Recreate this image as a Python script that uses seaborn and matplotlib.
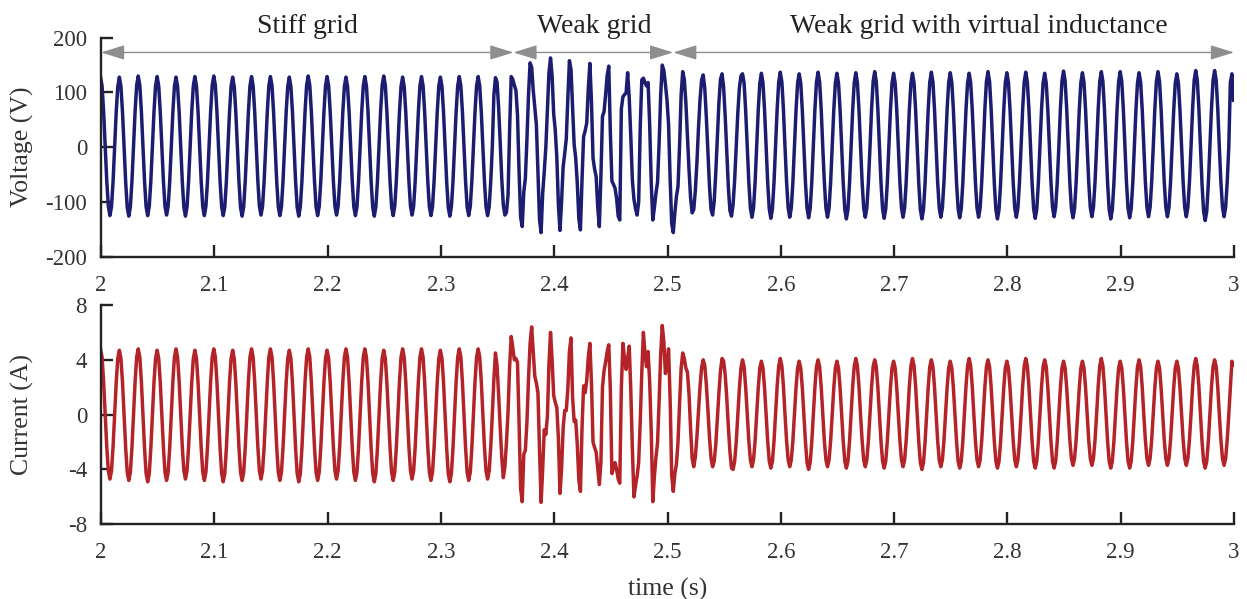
import numpy as np
import pandas as pd
import matplotlib
matplotlib.use("Agg")
import matplotlib.pyplot as plt
import matplotlib.transforms as mtransforms
import seaborn as sns

# recorded waveforms, 12 samples per 60 Hz cycle (one line = one cycle)
t_start = 1.99953
fs = 720

# --- voltage (V) ---
voltage_stiff = [
    129, 112, 65, 1, -62, -108, -125, -109, -63, 0, 64, 111,
    128, 111, 64, 0, -63, -110, -126, -109, -62, 1, 65, 113,
    130, 113, 65, 1, -62, -109, -125, -108, -62, 0, 64, 112,
    129, 112, 64, 0, -62, -108, -124, -108, -63, 0, 64, 111,
    128, 111, 64, -1, -63, -110, -126, -109, -62, 0, 65, 112,
    129, 112, 65, 1, -62, -109, -125, -108, -62, 0, 65, 113,
    130, 113, 65, 0, -62, -109, -125, -109, -63, -1, 64, 111,
    128, 111, 64, 0, -63, -110, -126, -109, -62, 0, 64, 112,
    129, 112, 65, 1, -62, -108, -124, -108, -62, 0, 64, 112,
    129, 112, 64, 0, -63, -109, -125, -109, -62, 1, 64, 111,
    128, 111, 64, 0, -63, -110, -126, -109, -63, 0, 65, 113,
    130, 113, 65, 1, -62, -109, -125, -108, -62, 0, 64, 112,
    129, 112, 64, 0, -62, -108, -124, -108, -63, 0, 64, 111,
    128, 111, 64, -1, -63, -109, -125, -109, -62, 1, 64, 112,
    129, 112, 65, 0, -63, -110, -126, -109, -62, 0, 65, 113,
    130, 113, 65, 1, -62, -109, -125, -108, -62, 0, 64, 111,
    128, 111, 64, 0, -62, -108, -124, -108, -62, 0, 64, 112,
    129, 112, 64, 0, -63, -109, -125, -109, -62, 1, 64, 112,
    128, 111, 64, 1, -63, -110, -126, -109, -63, 0, 64, 112,
    129, 112, 65, 0, -62, -109, -125, -108, -62, 0, 64, 112,
    129, 112, 64, 0, -62, -109, -125, -109, -63, 0, 95, 127,
]
voltage_weak = [
    119, 73, 10, -58, -106, -124, -119, -87, 33, 129, 124, 113,
    104, 59, -44, -128, -145, -82, -57, 14, 95, 154, 146, 104,
    72, 41, -46, -132, -156, -85, -45, -1, 70, 136, 163, 130,
    61, 31, -19, -106, -152, -100, -36, -12, 15, 90, 158, 142,
    73, 5, -20, -66, -131, -151, -60, 19, 30, 44, 107, 153,
    84, -20, -40, -54, -110, -145, -54, 56, 65, 96, 131, 148,
    28, -62, -68, -75, -94, -126, -133, 70, 92, 96, 99, 136,
    90, 20, -60, -95, -112, -124, -100, 37, 123, 126, 118, 112,
    118, 41, -66, -133, -110, -84, -64, 7, 96, 150, 140, 115,
    86, 42, -58, -139, -156, -120, -90, -72, 3, 96, 138, 124,
    81, 21, -41, -93, -120, -114, -80, -29, 34, 87, 123, 132,
    108, 55, -9, -71, -114, -124, -99, -47, 18, 81, 124, 134,
    109, 56, -9, -73, -116, -126, -105, -60, 0, 62, 108, 130,
]
voltage_vi = [
    134, 117, 67, 0, -64, -111, -128, -111, -64, 0, 68, 117,
    135, 117, 68, 1, -65, -113, -130, -113, -65, 0, 69, 119,
    137, 119, 69, 0, -64, -111, -128, -111, -64, 0, 67, 117,
    134, 117, 67, 0, -65, -112, -129, -112, -65, 1, 69, 119,
    137, 119, 69, 0, -64, -111, -128, -111, -64, 0, 68, 117,
    135, 117, 68, 0, -66, -114, -131, -114, -66, 0, 68, 118,
    136, 118, 68, 1, -64, -111, -128, -111, -64, 0, 69, 120,
    138, 120, 69, 0, -65, -113, -130, -113, -65, 0, 68, 117,
    135, 117, 68, 0, -64, -111, -128, -111, -64, 1, 68, 117,
    135, 117, 68, 0, -66, -114, -131, -114, -66, 0, 69, 119,
    137, 119, 69, 1, -64, -111, -128, -111, -64, 0, 68, 118,
    136, 118, 68, 0, -65, -112, -129, -112, -65, 0, 68, 117,
    135, 117, 68, 0, -64, -111, -128, -111, -64, 0, 69, 120,
    138, 120, 69, 1, -66, -114, -131, -114, -66, 0, 68, 118,
    136, 118, 68, 0, -64, -111, -128, -111, -64, 0, 69, 119,
    137, 119, 69, 0, -65, -113, -130, -113, -65, 1, 68, 117,
    135, 117, 68, 0, -64, -110, -127, -110, -64, 0, 70, 121,
    139, 121, 70, 1, -65, -112, -129, -112, -65, 0, 68, 118,
    136, 118, 68, 0, -64, -110, -127, -110, -64, 0, 69, 120,
    138, 120, 69, 0, -66, -114, -131, -114, -66, 0, 69, 120,
    138, 120, 69, 1, -65, -112, -129, -112, -65, 0, 68, 118,
    136, 118, 68, 0, -64, -110, -127, -110, -64, 0, 69, 120,
    138, 120, 69, 0, -64, -110, -127, -110, -64, 1, 67, 117,
    134, 117, 67, 0, -64, -110, -127, -110, -64, 0, 70, 122,
    140, 122, 70, 1, -67, -117, -134, -117, -67, 0, 70, 122,
    140, 122, 70, 0, -64, -110, -127, -110, -64, 0, 118, 134,
    85,
]

# --- current (A) ---
current_stiff = [
    4.8, 4.2, 2.4, 0.0, -2.35, -4.1, -4.7, -4.1, -2.35, 0.0, 2.35, 4.1,
    4.7, 4.1, 2.35, 0.0, -2.4, -4.2, -4.8, -4.2, -2.4, 0.0, 2.4, 4.2,
    4.8, 4.2, 2.4, 0.0, -2.45, -4.3, -4.9, -4.3, -2.45, 0.0, 2.35, 4.1,
    4.7, 4.1, 2.35, 0.0, -2.4, -4.2, -4.8, -4.2, -2.4, 0.0, 2.4, 4.2,
    4.8, 4.2, 2.4, 0.0, -2.35, -4.1, -4.7, -4.1, -2.35, 0.0, 2.35, 4.1,
    4.7, 4.1, 2.35, 0.0, -2.4, -4.2, -4.8, -4.2, -2.4, 0.0, 2.4, 4.2,
    4.8, 4.2, 2.4, 0.0, -2.45, -4.3, -4.9, -4.3, -2.45, 0.0, 2.35, 4.1,
    4.7, 4.1, 2.35, 0.0, -2.4, -4.2, -4.8, -4.2, -2.4, 0.0, 2.4, 4.2,
    4.8, 4.2, 2.4, 0.0, -2.35, -4.1, -4.7, -4.1, -2.35, 0.0, 2.4, 4.2,
    4.8, 4.2, 2.4, 0.0, -2.4, -4.2, -4.8, -4.2, -2.4, 0.0, 2.35, 4.1,
    4.7, 4.1, 2.35, 0.0, -2.45, -4.3, -4.9, -4.3, -2.45, 0.0, 2.4, 4.2,
    4.8, 4.2, 2.4, 0.0, -2.4, -4.2, -4.8, -4.2, -2.4, 0.0, 2.35, 4.1,
    4.7, 4.1, 2.35, 0.0, -2.35, -4.1, -4.7, -4.1, -2.35, 0.0, 2.4, 4.2,
    4.8, 4.2, 2.4, 0.0, -2.4, -4.2, -4.8, -4.2, -2.4, 0.0, 2.4, 4.2,
    4.8, 4.2, 2.4, 0.0, -2.45, -4.3, -4.9, -4.3, -2.45, 0.0, 2.35, 4.1,
    4.7, 4.1, 2.35, 0.0, -2.4, -4.2, -4.8, -4.2, -2.4, 0.0, 2.4, 4.2,
    4.8, 4.2, 2.4, 0.0, -2.35, -4.1, -4.7, -4.1, -2.35, 0.0, 2.4, 4.2,
    4.8, 4.2, 2.4, 0.0, -2.4, -4.2, -4.8, -4.2, -2.4, 0.0, 2.35, 4.1,
    4.7, 4.1, 2.35, 0.0, -2.45, -4.3, -4.9, -4.3, -2.45, 0.0, 2.4, 4.2,
    4.8, 4.2, 2.4, 0.0, -2.4, -4.2, -4.8, -4.2, -2.4, 0.0, 2.4, 4.2,
    4.8, 4.2, 2.4, 0.0, -2.35, -4.1, -4.7, -4.1, -2.35, 0.0, 2.6, 4.5,
]
current_weak = [
    3.6, 1.5, -0.9, -3.1, -4.6, -3.8, -2.0, 0.2, 3.5, 5.7, 4.9, 4.0,
    4.1, 3.8, -0.55, -5.4, -6.35, -2.9, -2.6, -0.55, 2.6, 5.2, 6.4, 4.6,
    2.8, 2.3, 1.6, -2.6, -6.4, -4.0, -1.1, -1.45, -0.15, 3.7, 6.0, 4.0,
    1.4, 0.9, 0.5, -1.75, -5.74, -4.0, -1.0, 0.3, 0.3, 1.9, 4.6, 5.6,
    1.3, -0.5, -0.4, -2.2, -4.8, -5.6, -1.0, 2.1, 1.6, 2.5, 4.2, 5.2,
    2.35, -2.0, -2.4, -2.75, -3.9, -5.1, -3.5, 2.0, 3.2, 3.85, 4.6, 5.1,
    1.85, -4.3, -3.9, -3.5, -4.0, -4.7, -5.0, 2.0, 5.2, 4.1, 3.3, 4.1,
    5.0, 1.8, -2.5, -6.0, -5.2, -4.5, -3.5, -0.5, 3.1, 6.0, 4.5, 3.5,
    4.6, 2.4, -1.3, -6.35, -4.5, -3.1, -2.05, 1.0, 4.4, 6.5, 5.3, 3.0,
    3.7, 4.8, 1.1, -4.4, -5.6, -4.3, -3.6, -2.0, 0.8, 3.4, 4.5, 4.1,
    3.4, 3.1, 1.5, -1.05, -3.2, -3.8, -3.1, -1.65, 0.2, 2.05, 3.45, 4.0,
    3.6, 2.2, 0.35, -1.65, -3.2, -3.8, -3.4, -2.2, -0.35, 1.6, 3.2, 4.1,
    3.9, 2.9, 1.2, -0.9, -2.7, -3.9, -4.0, -3.4, -2.0, 0.0, 1.9, 3.4,
]
current_vi = [
    4.0, 3.5, 2.0, 0.0, -1.9, -3.3, -3.8, -3.3, -1.9, 0.0, 1.95, 3.4,
    3.9, 3.4, 1.95, 0.0, -1.95, -3.4, -3.9, -3.4, -1.95, 0.0, 2.05, 3.55,
    4.1, 3.55, 2.05, 0.0, -1.9, -3.3, -3.8, -3.3, -1.9, 0.0, 1.95, 3.4,
    3.9, 3.4, 1.95, 0.0, -2.0, -3.5, -4.0, -3.5, -2.0, 0.0, 2.0, 3.5,
    4.0, 3.5, 2.0, 0.0, -1.9, -3.3, -3.8, -3.3, -1.9, 0.0, 1.95, 3.4,
    3.9, 3.4, 1.95, 0.0, -1.95, -3.4, -3.9, -3.4, -1.95, 0.0, 2.05, 3.55,
    4.1, 3.55, 2.05, 0.0, -1.9, -3.3, -3.8, -3.3, -1.9, 0.0, 2.0, 3.5,
    4.0, 3.5, 2.0, 0.0, -1.95, -3.4, -3.9, -3.4, -1.95, 0.0, 1.95, 3.4,
    3.9, 3.4, 1.95, 0.0, -1.9, -3.3, -3.8, -3.3, -1.9, 0.0, 2.05, 3.55,
    4.1, 3.55, 2.05, 0.0, -2.0, -3.5, -4.0, -3.5, -2.0, 0.0, 2.0, 3.5,
    4.0, 3.5, 2.0, 0.0, -1.9, -3.3, -3.8, -3.3, -1.9, 0.0, 1.95, 3.4,
    3.9, 3.4, 1.95, 0.0, -1.95, -3.4, -3.9, -3.4, -1.95, 0.0, 2.05, 3.55,
    4.1, 3.55, 2.05, 0.0, -1.9, -3.3, -3.8, -3.3, -1.9, 0.0, 2.0, 3.5,
    4.0, 3.5, 2.0, 0.0, -1.95, -3.4, -3.9, -3.4, -1.95, 0.0, 1.95, 3.4,
    3.9, 3.4, 1.95, 0.0, -1.9, -3.3, -3.8, -3.3, -1.9, 0.0, 2.05, 3.55,
    4.1, 3.55, 2.05, 0.0, -1.95, -3.4, -3.9, -3.4, -1.95, 0.0, 2.0, 3.5,
    4.0, 3.5, 2.0, 0.0, -1.95, -3.4, -3.9, -3.4, -1.95, 0.0, 1.95, 3.4,
    3.9, 3.4, 1.95, 0.0, -1.85, -3.2, -3.7, -3.2, -1.85, 0.0, 1.95, 3.4,
    3.9, 3.4, 1.95, 0.0, -1.85, -3.2, -3.7, -3.2, -1.85, 0.0, 2.05, 3.55,
    4.1, 3.55, 2.05, 0.0, -1.95, -3.4, -3.9, -3.4, -1.95, 0.0, 1.95, 3.4,
    3.9, 3.4, 1.95, 0.0, -1.95, -3.4, -3.9, -3.4, -1.95, 0.0, 2.0, 3.5,
    4.0, 3.5, 2.0, 0.0, -1.85, -3.2, -3.7, -3.2, -1.85, 0.0, 1.95, 3.4,
    3.9, 3.4, 1.95, 0.0, -1.85, -3.2, -3.7, -3.2, -1.85, 0.0, 1.95, 3.4,
    3.9, 3.4, 1.95, 0.0, -1.85, -3.2, -3.7, -3.2, -1.85, 0.0, 2.05, 3.55,
    4.1, 3.55, 2.05, 0.0, -1.95, -3.4, -3.9, -3.4, -1.95, 0.0, 2.0, 3.5,
    4.0, 3.5, 2.0, 0.0, -1.85, -3.2, -3.7, -3.2, -1.85, 0.0, 2.0, 3.9,
    3.6,
]

# axis ticks and annotations
x_ticks = [2.0, 2.1, 2.2, 2.3, 2.4, 2.5, 2.6, 2.7, 2.8, 2.9, 3.0]
x_tick_labels = ["2", "2.1", "2.2", "2.3", "2.4", "2.5", "2.6", "2.7", "2.8", "2.9", "3"]
v_ticks = [-200, -100, 0, 100, 200]
i_ticks = [-8, -4, 0, 4, 8]
region_names = ["Stiff grid", "Weak grid", "Weak grid with virtual inductance"]
region_edges = [2.0, 2.364, 2.505, 3.0]
region_text_x = [2.182, 2.435, 2.7745]
arrow_level = 173

voltage = np.concatenate([voltage_stiff, voltage_weak, voltage_vi])
current = np.concatenate([current_stiff, current_weak, current_vi])
df = pd.DataFrame({
    "time": t_start + np.arange(len(voltage)) / fs,
    "voltage": voltage,
    "current": current,
})

sns.set_style("ticks")
plt.rcParams["font.family"] = ["Liberation Serif", "DejaVu Serif"]
plt.rcParams["axes.unicode_minus"] = False

fig = plt.figure(figsize=(12.47, 5.99), dpi=100)
ax1 = fig.add_axes([0.081, 0.5715, 0.9086, 0.3656])
ax2 = fig.add_axes([0.081, 0.1247, 0.9086, 0.3661])

sns.lineplot(data=df, x="time", y="voltage", ax=ax1, color="#1c1c70",
             linewidth=2.5, estimator=None)
sns.lineplot(data=df, x="time", y="current", ax=ax2, color="#b32327",
             linewidth=2.5, estimator=None)

for ax, ticks, label in [(ax1, v_ticks, "Voltage (V)"), (ax2, i_ticks, "Current (A)")]:
    ax.set_xlim(2, 3)
    ax.set_ylim(ticks[0], ticks[-1])
    ax.set_xticks(x_ticks)
    ax.set_xticklabels(x_tick_labels)
    ax.set_yticks(ticks)
    sns.despine(ax=ax)
    for side in ["left", "bottom"]:
        ax.spines[side].set_linewidth(1.7)
        ax.spines[side].set_color("#222222")
    ax.tick_params(direction="in", length=8.5, width=1.7, color="#222222",
                   labelsize=16.5, labelcolor="#333333")
    ax.tick_params(axis="x", pad=13)
    ax.tick_params(axis="y", pad=10)
    ax.set_xlabel("")
    ax.set_ylabel(label, fontsize=18.5, color="#333333")
    ax.yaxis.set_label_coords(-0.059, 0.5)

ax2.set_xlabel("time (s)", fontsize=18.5, color="#333333")
ax2.xaxis.set_label_coords(0.5, -0.245)

# region arrows and labels above the voltage plot
for a, b in zip(region_edges[:-1], region_edges[1:]):
    ax1.annotate("", xy=(b, arrow_level), xytext=(a, arrow_level),
                 annotation_clip=False,
                 arrowprops=dict(arrowstyle="<|-|>,head_length=1.45,head_width=0.45",
                                 mutation_scale=10, color="#8e8e8e", lw=1.0,
                                 shrinkA=0, shrinkB=0))

trans = mtransforms.blended_transform_factory(ax1.transData, ax1.transAxes)
for name, xpos in zip(region_names, region_text_x):
    ax1.text(xpos, 1.021, name, transform=trans, ha="center", va="baseline",
             fontsize=20, color="#222222")

plt.savefig("out.png", dpi=100)
